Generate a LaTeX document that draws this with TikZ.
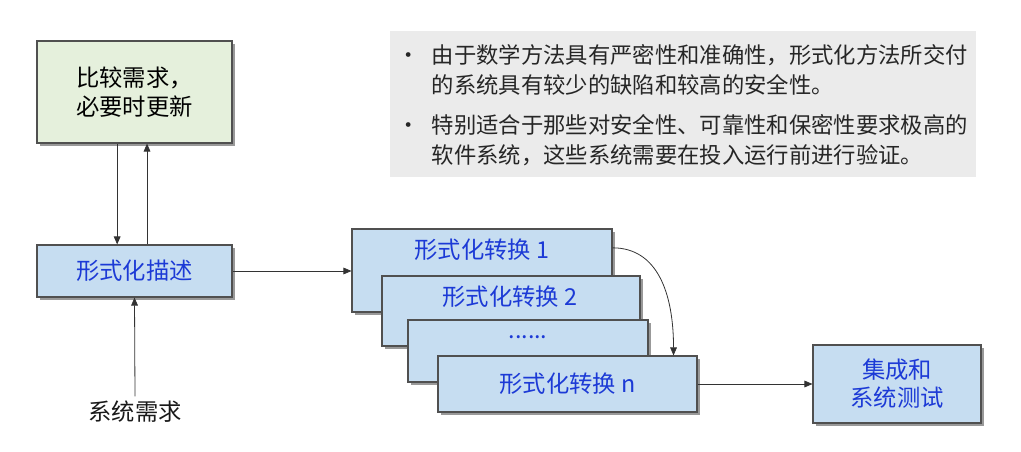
\documentclass[tikz,border=0pt]{standalone}
\usepackage{fontspec}
\setmainfont{Noto Sans CJK SC}
\usepackage{xcolor}
\usetikzlibrary{arrows.meta,shadows}

\definecolor{boxblue}{RGB}{198,221,241}
\definecolor{boxgreen}{RGB}{229,240,220}
\definecolor{textblue}{RGB}{28,58,214}
\definecolor{infogray}{RGB}{235,235,235}
\definecolor{edgegray}{RGB}{80,80,80}

\begin{document}
\begin{tikzpicture}[x=0.75pt,y=0.75pt,yscale=-1,xscale=1,
  every node/.style={font=\fontsize{17.5}{21}\selectfont},
  shadowbox/.style={draw=edgegray, line width=0.8pt, inner sep=0pt,
    drop shadow={shadow xshift=2.2pt, shadow yshift=-2.2pt, fill=black!40, opacity=1}},
  bluebox/.style={shadowbox, fill=boxblue, text=textblue, align=center},
  greenbox/.style={shadowbox, fill=boxgreen, text=black, align=center},
  bluetext/.style={text=textblue, inner sep=0pt},
  arr/.style={draw=black!80, line width=0.6pt, -{Triangle[length=6pt,width=5pt]}}]
\useasboundingbox (0,0) rectangle (1021,452);

%Shape: Rectangle, notes
\node[fill=infogray, minimum width=439.5pt, minimum height=109.5pt, inner sep=0pt] (info) at (683,104) {};
% Text Node
\node[anchor=west, align=left, inner sep=0pt, text=black!85,
  font=\fontsize{16.75}{22.5}\selectfont] (infotext) at (397,105)
  {\makebox[26pt][l]{\textbullet}由于数学方法具有严密性和准确性，形式化方法所交付\\
   \hspace*{26pt}的系统具有较少的缺陷和较高的安全性。\\[7.5pt]
   \makebox[26pt][l]{\textbullet}特别适合于那些对安全性、可靠性和保密性要求极高的\\
   \hspace*{26pt}软件系统，这些系统需要在投入运行前进行验证。};

%Shape: Rectangle, compare
\node[greenbox, minimum width=146.25pt, minimum height=76.5pt] (cmp) at (134.5,92) {比较需求，\\[1pt]必要时更新};
%Shape: Rectangle, description
\node[bluebox, minimum width=146.25pt, minimum height=39pt] (desc) at (134.5,271) {形式化描述};
% Text Node
\node[text=black!90] (req) at (135,412) {系统需求};

%Shape: Rectangle, transformations
\node[bluebox, minimum width=195pt, minimum height=62.25pt] (t1) at (482,270.5) {};
\node[bluetext] (t1text) at (482,250) {形式化转换 1};
\node[bluebox, minimum width=193.5pt, minimum height=52.5pt] (t2) at (511,311) {};
\node[bluetext] (t2text) at (510,297) {形式化转换 2};
\node[bluebox, minimum width=180pt, minimum height=46.5pt] (t3) at (528,351) {};
\node[bluetext] (t3text) at (528,337) {......};
\node[bluebox, minimum width=194.25pt, minimum height=42pt] (tn) at (567.5,384) {形式化转换 n};

%Shape: Rectangle, integration
\node[bluebox, minimum width=126pt, minimum height=58.5pt] (integ) at (897,384) {集成和\\系统测试};

%Straight Lines
\draw[arr] ([xshift=-13pt]cmp.south) -- ([xshift=-13pt]desc.north);
\draw[arr] ([xshift=9.4pt]desc.north) -- ([xshift=9.4pt]cmp.south);
\draw[arr] (req.north) -- (desc.south);
\draw[arr] (desc.east) -- (desc.east -| t1.west);
\draw[arr] ([yshift=-17pt]t1.east) .. controls +(45,0) and +(0,-62) .. ([xshift=-18pt]tn.north east);
\draw[arr] (tn.east) -- (integ.west);

\end{tikzpicture}
\end{document}
